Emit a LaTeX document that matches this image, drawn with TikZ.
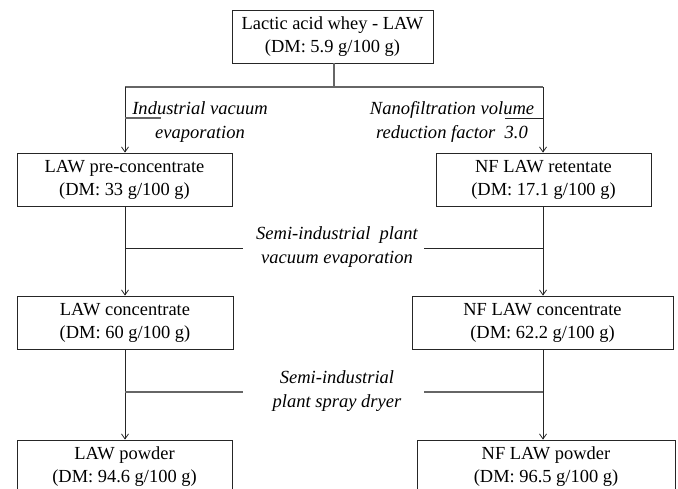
\documentclass[tikz,border=0pt]{standalone}
\usepackage{fontspec}
\setmainfont{Liberation Serif}
\usetikzlibrary{arrows.meta}
\begin{document}
\begin{tikzpicture}[x=1bp,y=-1bp,
  box/.style={draw=black!85, line width=0.8bp, inner sep=0pt, minimum height=53bp, align=center,
    font=\fontsize{18.5}{23}\selectfont},
  lbl/.style={inner sep=0pt, align=center, font=\fontsize{18.6}{24}\selectfont\itshape},
  conn/.style={draw=black!85, line width=0.8bp},
  stub/.style={draw=black!60, line width=1.1bp},
  arr/.style={conn, -{Straight Barb[length=5bp,width=7bp]}}]
\useasboundingbox (0,0) rectangle (678,489);
% column lines
\coordinate (cL) at (125,0);
\coordinate (cR) at (543,0);
% boxes
\node[box, minimum width=201bp] (top) at (332.5,36.5) {Lactic acid whey - LAW\\(DM: 5.9 g/100 g)};
\node[box, minimum width=215bp] (l2) at (124.5,179.5) {LAW pre-concentrate\\(DM: 33 g/100 g)};
\node[box, minimum width=215bp] (r2) at (543.5,179.5) {NF LAW retentate\\(DM: 17.1 g/100 g)};
\node[box, minimum width=216bp] (l3) at (125,322.5) {LAW concentrate\\(DM: 60 g/100 g)};
\node[box, minimum width=261bp] (r3) at (542.5,322.5) {NF LAW concentrate\\(DM: 62.2 g/100 g)};
\node[box, minimum width=215bp] (l4) at (124.5,466.5) {LAW powder\\(DM: 94.6 g/100 g)};
\node[box, minimum width=258bp] (r4) at (546,466.5) {NF LAW powder\\(DM: 96.5 g/100 g)};
% labels
\node[lbl] (t1) at (200,122) {Industrial vacuum\\evaporation};
\node[lbl] (t2) at (452,122) {Nanofiltration volume\\reduction factor~~3.0};
\node[lbl] (t3) at (337,247) {Semi-industrial~~plant\\vacuum evaporation};
\node[lbl] (t4) at (337,391) {Semi-industrial\\plant spray dryer};
% junction coordinates
\coordinate (j0) at (334,87);
\coordinate (s1L) at (161,118);
\coordinate (s1R) at (505,118);
\coordinate (s2L) at (243,248);
\coordinate (s2R) at (424,248);
\coordinate (s3L) at (243,392);
\coordinate (s3R) at (424,392);
% connectors
\draw[stub] (top.south -| j0) -- (j0);
\draw[stub] (cL |- j0) -- (cR |- j0);
\draw[arr] (cL |- j0) -- (cL |- l2.north);
\draw[arr] (cR |- j0) -- (cR |- r2.north);
\draw[stub] (cL |- s1L) -- (s1L);
\draw[conn] (cR |- s1R) -- (s1R);
\draw[arr] (cL |- l2.south) -- (cL |- l3.north);
\draw[arr] (cR |- r2.south) -- (cR |- r3.north);
\draw[conn] (cL |- s2L) -- (s2L);
\draw[conn] (cR |- s2R) -- (s2R);
\draw[arr] (cL |- l3.south) -- (cL |- l4.north);
\draw[arr] (cR |- r3.south) -- (cR |- r4.north);
\draw[stub] (cL |- s3L) -- (s3L);
\draw[stub] (cR |- s3R) -- (s3R);
\end{tikzpicture}
\end{document}
